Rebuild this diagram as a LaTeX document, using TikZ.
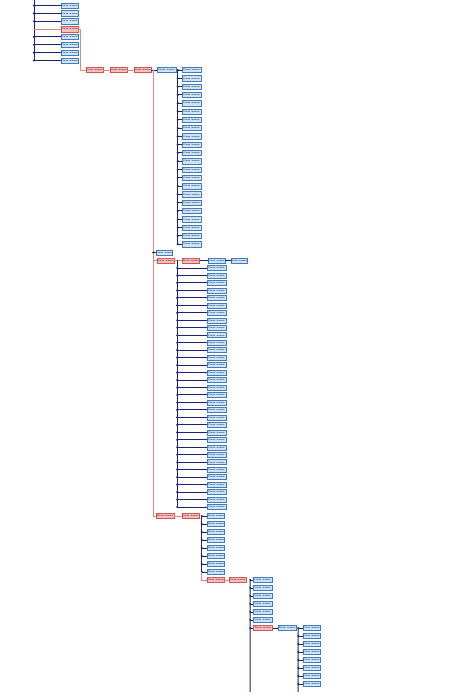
\documentclass[tikz,border=0pt]{standalone}
\usepackage{tikz}
\definecolor{navyl}{HTML}{1B2478}
\definecolor{redl}{HTML}{E08585}
\definecolor{bfill}{HTML}{CFE3F5}
\definecolor{bdraw}{HTML}{3F7CC0}
\definecolor{rfill}{HTML}{F4C0BC}
\definecolor{rdraw}{HTML}{D9534F}
\definecolor{txt}{HTML}{1A2F55}
\tikzset{
  bbox/.style={draw=bdraw, fill=bfill, line width=0.5pt, minimum width=#1,
    minimum height=5.4pt, inner sep=0pt, font=\fontsize{2.3}{2.5}\selectfont\bfseries, text=txt},
  bbox/.default=18pt,
  rbox/.style={draw=rdraw, fill=rfill, line width=0.5pt, minimum width=#1,
    minimum height=5.4pt, inner sep=0pt, font=\fontsize{2.3}{2.5}\selectfont\bfseries, text=txt},
  rbox/.default=18pt,
  nav/.style={draw=navyl, line width=1pt},
  rline/.style={draw=redl, line width=0.7pt},
  dotc/.style={fill=navyl}
}
\begin{document}
\begin{tikzpicture}[x=1pt,y=-1pt]
\useasboundingbox (0,0) rectangle (448,699);
% ---------- group 0 ----------
\coordinate (r0) at (34,0);
\foreach \i/\st in {1/bbox,2/bbox,3/bbox,4/rbox,5/bbox,6/bbox,7/bbox,8/bbox}{
  \pgfmathsetmacro\yy{5.5+7.85*(\i-1)}
  \node[\st=17pt] (g0-\i) at (69.5,\yy) {Item name};
}
\foreach \i in {1,2,3,5,6,7,8}{
  \draw[nav] (r0) |- (g0-\i.west);
  \fill[dotc] (r0 |- g0-\i.west) circle (1.2pt);
}
\draw[rline] (r0 |- g0-4.west) -- (g0-4.west);
% ---------- chain ----------
\node[rbox=17pt] (A1) at (94.5,70) {Item name};
\node[rbox=17pt] (A2) at (118.5,70) {Item name};
\node[rbox=17pt] (A3) at (142.5,70) {Item name};
\node[bbox=19pt] (B) at (166.5,70) {Item name};
\draw[rline] (g0-4.east) -- ++(2,0) |- (A1.west);
\draw[rline] (A1.east) -- (A2.west);
\draw[rline] (A2.east) -- (A3.west);
\draw[nav] (A3.east) -- (B.west);
\coordinate (v3) at ([xshift=2pt]A3.east);
% ---------- B children ----------
\coordinate (vB) at ([xshift=1.5pt]B.east);
\foreach \i in {1,...,22}{
  \pgfmathsetmacro\yy{70+8.29*(\i-1)}
  \node[bbox=19pt] (b-\i) at (191.5,\yy) {Item name};
  \draw[nav] (vB) |- (b-\i.west);
  \fill[dotc] (vB |- b-\i.west) circle (1.2pt);
}
% ---------- A3 other children ----------
\node[bbox=15pt] (K) at (164.5,252.5) {Item name};
\node[rbox=17pt] (C1) at (165.5,260.5) {Item name};
\node[rbox=18pt] (F1) at (165,516) {Item name};
\draw[rline] (v3) -- (v3 |- F1.west);
\draw[nav] (v3 |- K.west) -- (K.west);
\fill[dotc] (v3 |- K.west) circle (1.2pt);
\draw[rline] (v3 |- C1.west) -- (C1.west);
\draw[rline] (v3 |- F1.west) -- (F1.west);
% ---------- C1 children ----------
\node[rbox=17pt] (C2) at (191,260.5) {Item name};
\node[bbox=17pt] (D) at (216.5,260.5) {Item name};
\node[bbox=16pt] (E) at (239,260.5) {Item name};
\draw[rline] (C1.east) -- (C2.west);
\draw[nav] (C2.east) -- (D.west);
\draw[nav] (D.east) -- (E.west);
\coordinate (vC) at ([xshift=3pt]C1.east);
\foreach \i in {1,...,33}{
  \pgfmathsetmacro\yy{268+7.47*(\i-1)}
  \node[bbox=19pt, minimum height=5pt] (c-\i) at (216.5,\yy) {Item name};
  \draw[nav] (vC) |- (c-\i.west);
  \fill[dotc] (vC |- c-\i.west) circle (1.2pt);
}
% ---------- F children ----------
\node[rbox=17pt] (F2) at (190.5,516) {Item name};
\draw[rline] (F1.east) -- (F2.west);
\coordinate (vF) at ([xshift=2.5pt]F2.east);
\foreach \i in {1,...,8}{
  \pgfmathsetmacro\yy{516+8*(\i-1)}
  \node[bbox=17pt] (f-\i) at (216,\yy) {Item name};
  \draw[nav] (vF) |- (f-\i.west);
  \fill[dotc] (vF |- f-\i.west) circle (1.2pt);
}
\node[rbox=17pt] (G1) at (215.5,580) {Item name};
\draw[rline] (vF |- f-8.west) |- (G1.west);
\node[rbox=17pt] (G2) at (237.5,580) {Item name};
\draw[rline] (G1.east) -- (G2.west);
% ---------- G2 children ----------
\coordinate (vG) at ([xshift=4pt]G2.east);
\coordinate (gEnd) at (250,692);
\draw[nav] (vG) -- (gEnd);
\foreach \i in {1,...,6}{
  \pgfmathsetmacro\yy{580+8*(\i-1)}
  \node[bbox=19pt] (h-\i) at (262.5,\yy) {Item name};
  \draw[nav] (vG |- h-\i.west) -- (h-\i.west);
  \fill[dotc] (vG |- h-\i.west) circle (1.2pt);
}
\node[rbox=19pt] (I1) at (263,628) {Item name};
\draw[nav] (vG |- I1.west) -- (I1.west);
\fill[dotc] (vG |- I1.west) circle (1.2pt);
\node[bbox=18pt] (J) at (287,628) {Item name};
\draw[nav] (I1.east) -- (J.west);
% ---------- J children ----------
\coordinate (vJ) at ([xshift=2pt]J.east);
\coordinate (jEnd) at (298,692);
\draw[nav] (vJ) -- (jEnd);
\foreach \i in {1,...,8}{
  \pgfmathsetmacro\yy{628+8*(\i-1)}
  \node[bbox=17pt] (j-\i) at (311.5,\yy) {Item name};
  \draw[nav] (vJ |- j-\i.west) -- (j-\i.west);
  \fill[dotc] (vJ |- j-\i.west) circle (1.2pt);
}
\end{tikzpicture}
\end{document}
